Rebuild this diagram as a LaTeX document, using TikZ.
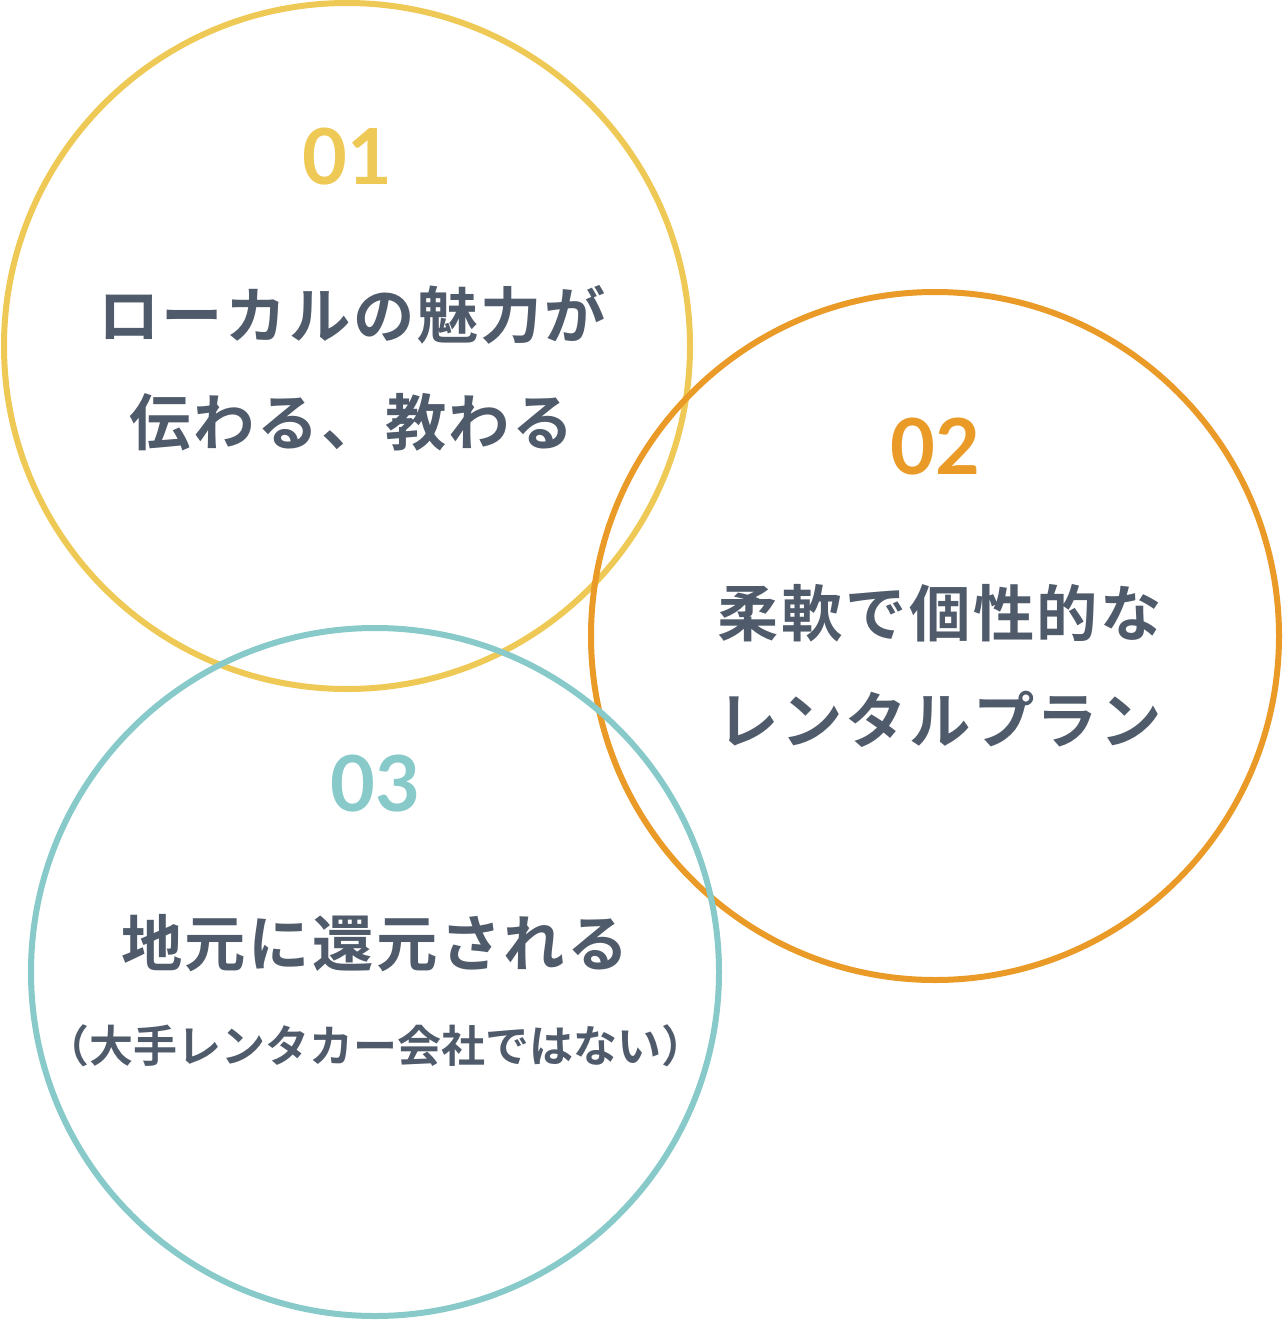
\documentclass[tikz,border=0pt]{standalone}
\usepackage{fontspec}
\newfontfamily\jpfont[LetterSpace=4]{Noto Sans CJK JP Bold}
\newfontfamily\jpsmall{Noto Sans CJK JP Bold}
\newfontfamily\numfont{Lato Bold}
\definecolor{ringyellow}{HTML}{EEC956}
\definecolor{ringorange}{HTML}{EA9A27}
\definecolor{ringteal}{HTML}{88C9C9}
\definecolor{textgray}{HTML}{4F5A6A}
\tikzset{
  ring/.style={line width=4.5pt},
  num/.style={font=\numfont\fontsize{58}{58}\selectfont},
  lead/.style={font=\jpfont\fontsize{46}{80.25}\selectfont,text=textgray,align=center},
  note/.style={font=\jpsmall\fontsize{33}{33}\selectfont,text=textgray}
}
\begin{document}
\begin{tikzpicture}[x=0.75pt,y=-0.75pt]
\useasboundingbox (0,0) rectangle (1282,1320);
\coordinate (A) at (347,346);
\coordinate (B) at (935,636);
\coordinate (C) at (375,972);

\draw[ring, draw=ringyellow] (A) circle[radius=343];
\draw[ring, draw=ringorange] (B) circle[radius=344];
\draw[ring, draw=ringteal] (C) circle[radius=344];

\node[num, text=ringyellow] (n1) at (347,157) {01};
\node[lead] (t1) at (352,368) {ローカルの魅力が\\伝わる、教わる};

\node[num, text=ringorange] (n2) at (935,447) {02};
\node[lead] (t2) at (940,666) {柔軟で個性的な\\レンタルプラン};

\node[num, text=ringteal] (n3) at (375,784) {03};
\node[lead] (t3) at (375,943) {地元に還元される};
\node[note] (t4) at (375,1046) {（大手レンタカー会社ではない）};
\end{tikzpicture}
\end{document}
